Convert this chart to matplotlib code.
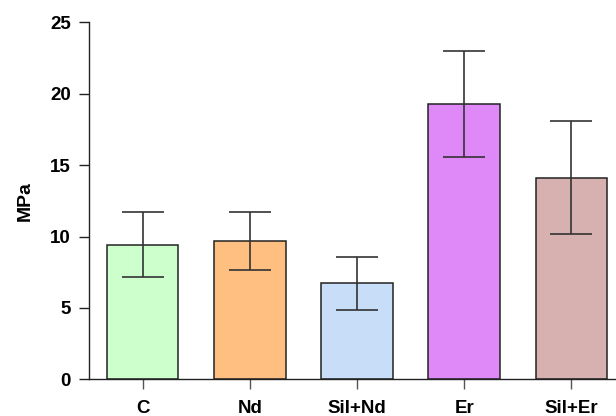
import matplotlib.pyplot as plt

# Werte
gruppen = ["C", "Nd", "Sil+Nd", "Er", "Sil+Er"]
mittelwerte = [9.43, 9.66, 6.72, 19.26, 14.12]
fehler_oben = [11.69, 11.69, 8.56, 22.99, 18.07]
fehler_unten = [7.14, 7.63, 4.83, 15.55, 10.17]
farben = ["#CCFFCC", "#FFBF80", "#C8DEF8", "#DE89F7", "#D6B1B0"]

plt.rcParams["font.family"] = ["Liberation Sans", "DejaVu Sans"]
plt.rcParams["font.weight"] = "bold"

fig = plt.figure(figsize=(6.16, 4.16), dpi=100)
ax = fig.add_axes([89 / 616, 36.7 / 416, 536 / 616, 357 / 416])

x = list(range(len(gruppen)))
err = [[m - u for m, u in zip(mittelwerte, fehler_unten)],
       [o - m for m, o in zip(mittelwerte, fehler_oben)]]

ax.bar(x, mittelwerte, width=0.667, color=farben, edgecolor="#222222", linewidth=1.1, zorder=2)
ax.errorbar(x, mittelwerte, yerr=err, fmt="none", ecolor="#333333", elinewidth=1.2,
            capsize=15, capthick=1.2, zorder=3)

ax.set_xlim(-0.5, 4.5)
ax.set_ylim(0, 25)
ax.set_yticks([0, 5, 10, 15, 20, 25])
ax.set_xticks(x)
ax.set_xticklabels(gruppen)
ax.set_ylabel("MPa", fontsize=14, fontweight="bold", labelpad=12)

for s in ["top", "right"]:
    ax.spines[s].set_visible(False)
for s in ["left", "bottom"]:
    ax.spines[s].set_linewidth(1.0)
    ax.spines[s].set_color("#222222")

ax.tick_params(axis="y", length=7, width=1.0, pad=6, labelsize=13.5, color="#222222")
ax.tick_params(axis="x", length=7, width=1.0, pad=8, labelsize=13.5, color="#555555")

fig.savefig("out.png", dpi=100)
